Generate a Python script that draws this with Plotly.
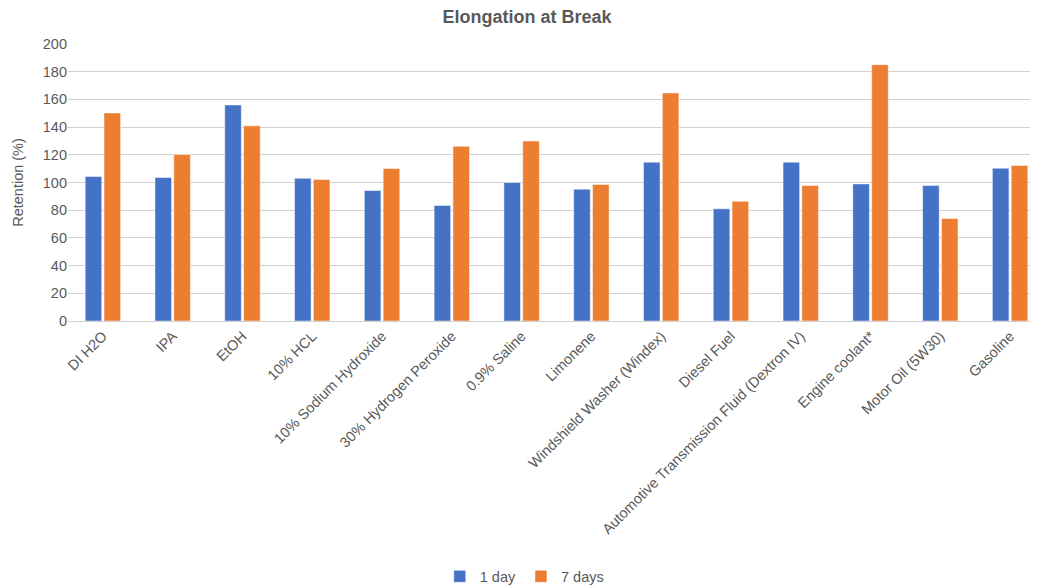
import plotly.graph_objects as go

categories = ["DI H2O", "IPA", "EtOH", "10% HCL", "10% Sodium Hydroxide",
              "30% Hydrogen Peroxide", "0.9% Saline", "Limonene",
              "Windshield Washer (Windex)", "Diesel Fuel",
              "Automotive Transmission Fluid (Dextron IV)", "Engine coolant*",
              "Motor Oil (5W30)", "Gasoline"]
day1 = [104.3, 103.6, 156, 103.1, 94.2, 83.4, 100, 95.2, 114.7, 81, 114.7, 99, 97.8, 110.3]
day7 = [150.2, 120.2, 140.9, 102.2, 110.1, 126.2, 130, 98.6, 164.7, 86.5, 97.8, 185.1, 74, 112.3]
yticks = [0, 20, 40, 60, 80, 100, 120, 140, 160, 180, 200]

font = "Liberation Sans, Arial, sans-serif"
fig = go.Figure()
fig.add_bar(x=categories, y=day1, name="1 day", marker=dict(color="#4472C4", line=dict(color="#ffffff", width=0.5)))
fig.add_bar(x=categories, y=day7, name="7 days", marker=dict(color="#ED7D31", line=dict(color="#ffffff", width=0.5)))

fig.update_layout(
    width=1038, height=588,
    paper_bgcolor="white", plot_bgcolor="white",
    margin=dict(l=60, r=1, t=36, b=275, autoexpand=False),
    title=dict(text="<b>Elongation at Break</b>", x=0.5, xanchor="center", yref="container", y=0.986, yanchor="middle",
               font=dict(family=font, size=18, color="#595959")),
    barmode="group", bargap=0.46, bargroupgap=0.12,
    font=dict(family=font, size=14.5, color="#595959"),
    legend=dict(orientation="h", x=0.467, xanchor="center", y=-0.922, yanchor="middle",
                font=dict(family=font, size=14.5, color="#595959"), itemwidth=30, traceorder="normal"),
    showlegend=True,
)
fig.update_xaxes(tickangle=-45, showgrid=False, showline=True, linecolor="#d0d0d0", linewidth=1,
                 tickfont=dict(family=font, size=14.5, color="#595959"), ticks="", automargin=False)
fig.update_yaxes(range=[0, 200], tickvals=yticks, showgrid=True, gridcolor="#d0d0d0", gridwidth=1,
                 zeroline=False, showline=False, ticks="", automargin=False,
                 title=dict(text="Retention (%)", font=dict(family=font, size=14.5, color="#595959")),
                 tickfont=dict(family=font, size=14.5, color="#595959"))
fig.write_html("out.html")
